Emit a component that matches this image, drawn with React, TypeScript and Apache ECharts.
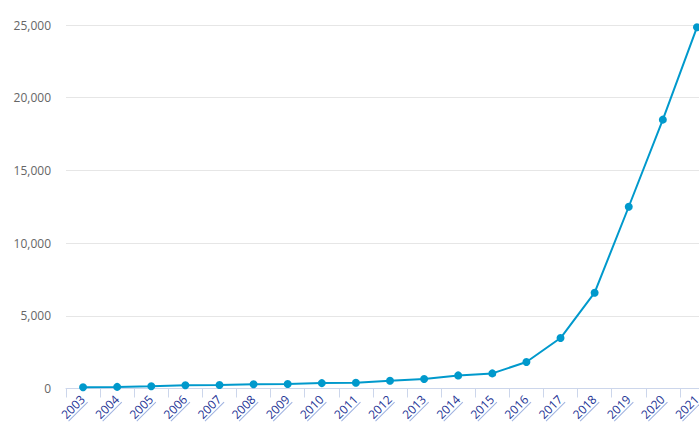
import React, { useEffect, useRef } from "react";
import * as echarts from "echarts";

const years = ["2003","2004","2005","2006","2007","2008","2009","2010","2011","2012","2013","2014","2015","2016","2017","2018","2019","2020","2021"];
const values = [90, 110, 160, 220, 240, 290, 310, 370, 390, 530, 650, 900, 1040, 1820, 3470, 6590, 12500, 18490, 24840];
const yMax = 25000;
const yInterval = 5000;

export default function App() {
  const ref = useRef<HTMLDivElement>(null);
  useEffect(() => {
    document.body.style.margin = "0";
    document.body.style.overflow = "hidden";
    const chart = echarts.init(ref.current!, null, { renderer: "svg" });
    chart.setOption({
      animation: false,
      backgroundColor: "#ffffff",
      grid: { left: 66, right: 0, top: 25, bottom: 46.5, containLabel: false },
      xAxis: {
        type: "category",
        data: years,
        boundaryGap: true,
        axisLine: { show: true, lineStyle: { color: "#ccd6eb", width: 1 } },
        axisTick: { show: true, length: 9, alignWithLabel: false, lineStyle: { color: "#ccd6eb" } },
        axisLabel: {
          interval: 0,
          rotate: 45,
          margin: 9,
          formatter: (v: string) => `{t|${v}}\n{u| }`,
          rich: {
            t: { color: "#253596", fontSize: 12, fontFamily: "Open Sans", lineHeight: 13 },
            u: { width: 27, height: 1, lineHeight: 1, fontSize: 1, backgroundColor: "#9fb2e0" },
          },
        },
      },
      yAxis: {
        type: "value",
        min: 0,
        max: yMax,
        interval: yInterval,
        axisLine: { show: false },
        axisTick: { show: false },
        splitLine: { lineStyle: { color: "#e6e6e6", width: 1 } },
        axisLabel: {
          margin: 15,
          color: "#666666",
          fontSize: 12,
          fontFamily: "Open Sans",
          formatter: (v: number) => v.toLocaleString("en-US"),
        },
      },
      series: [
        {
          type: "line",
          data: values,
          symbol: "circle",
          symbolSize: 8,
          clip: false,
          lineStyle: { color: "#0099cc", width: 2 },
          itemStyle: { color: "#0099cc" },
        },
      ],
    });
    return () => chart.dispose();
  }, []);
  return (
    <div style={{ width: 699, height: 435, position: "absolute", left: 0, top: 0, overflow: "hidden" }}>
      <div ref={ref} style={{ width: 714, height: 435 }} />
    </div>
  );
}
